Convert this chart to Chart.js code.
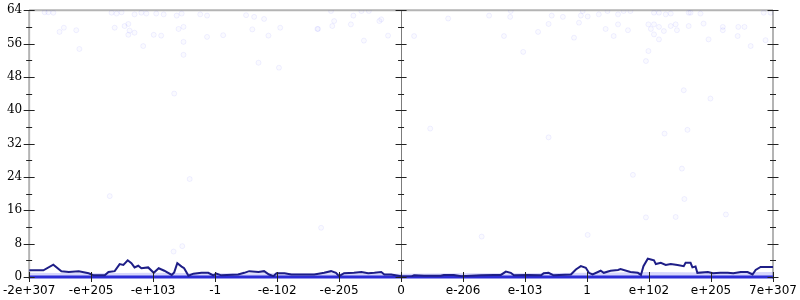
<!DOCTYPE html>
<html>
<head>
<meta charset="utf-8">
<script src="https://cdn.jsdelivr.net/npm/chart.js@4/dist/chart.umd.min.js"></script>
<style>
  html, body { margin: 0; padding: 0; background: #fff; }
</style>
</head>
<body>
<canvas id="myChart" width="800" height="300"></canvas>
<script>
// tick positions (one unit per labelled step) and their labels
const xTickPos = [-6, -5, -4, -3, -2, -1, 0, 1, 2, 3, 4, 5, 6];
const xTickLabels = ["-2e+307", "-e+205", "-e+103", "-1", "-e-102", "-e-205", "0",
  "e-206", "e-103", "1", "e+102", "e+205", "7e+307"];
const yTicks = [0, 8, 16, 24, 32, 40, 48, 56, 64];

// running curve (dark line)
const lineX = [-6, -5.77, -5.61, -5.48, -5.36, -5.2, -5.04, -4.96, -4.78, -4.72, -4.62, -4.54, -4.48, -4.41,
  -4.35, -4.3, -4.24, -4.19, -4.08, -3.99, -3.91, -3.82, -3.7, -3.66, -3.61, -3.54, -3.5, -3.43, -3.35,
  -3.22, -3.11, -3.03, -2.98, -2.9, -2.63, -2.53, -2.45, -2.3, -2.21, -2.13, -2.06, -2.01, -1.88, -1.77,
  -1.4, -1.24, -1.13, -1.05, -1.0, -0.92, -0.76, -0.64, -0.53, -0.43, -0.32, -0.27, -0.16, 0, 0.16,
  0.21, 0.37, 0.64, 0.69, 0.85, 0.97, 1.29, 1.5, 1.61, 1.69, 1.77, 1.82, 2.05, 2.26, 2.3, 2.38, 2.46,
  2.74, 2.82, 2.9, 2.98, 3.03, 3.09, 3.22, 3.27, 3.38, 3.5, 3.54, 3.7, 3.82, 3.87, 3.91, 3.98, 4.03,
  4.08, 4.11, 4.19, 4.27, 4.35, 4.46, 4.56, 4.59, 4.67, 4.7, 4.75, 4.78, 4.95, 5.03, 5.15, 5.27, 5.36,
  5.48, 5.59, 5.67, 5.72, 5.8, 6];
const lineY = [1.6, 1.6, 2.95, 1.4, 1.2, 1.35, 0.9, 0.4, 0.4, 1.2, 1.4, 3.1, 2.9, 4.0,
  3.3, 2.3, 2.7, 2.1, 2.3, 1.0, 2.1, 1.5, 0.5, 1.1, 3.3, 2.5, 2.1, 0.3, 0.8,
  1.0, 1.0, 0.4, 0.8, 0.4, 0.6, 1.0, 1.4, 1.2, 1.4, 0.6, 0.2, 0.9, 0.9, 0.6,
  0.6, 1.0, 1.4, 1.0, 0.2, 0.9, 1.0, 1.2, 0.9, 1.0, 1.2, 0.6, 0.6, 0.2, 0.1,
  0.4, 0.3, 0.3, 0.5, 0.5, 0.2, 0.4, 0.5, 0.5, 1.3, 1.0, 0.4, 0.5, 0.4, 0.9, 1.0, 0.4,
  0.6, 1.8, 2.6, 2.2, 1.0, 0.6, 1.5, 1.0, 1.5, 1.7, 1.9, 1.2, 1.0, 0.5, 2.6, 4.4, 4.2,
  4.0, 3.1, 3.4, 2.9, 3.1, 2.9, 2.6, 3.4, 3.4, 2.3, 2.5, 1.0, 1.2, 0.9, 1.0, 1.0, 0.9,
  1.2, 1.2, 0.6, 1.7, 2.4, 2.4];

// light band of dense samples near zero
const bandX = [-6, -5, -4, -3, -2, -1, 0, 1, 2, 3, 3.5, 4, 5, 6];
const bandY = [1.0, 0.9, 1.0, 0.9, 0.9, 0.9, 0.8, 0.9, 0.9, 1.0, 1.1, 1.2, 1.1, 1.2];

// faint scattered samples
const dotX = [-5.75, -5.69, -5.61, -5.44, -5.51, -5.24, -5.19, -4.67, -4.59, -4.51, -4.62, -4.46, -4.4,
  -4.38, -4.4, -4.3, -4.19, -4.11, -4.3, -3.95, -3.83, -3.99, -3.87, -4.16, -3.62, -3.54, -3.59, -3.51,
  -3.51, -3.51, -3.66, -3.24, -3.13, -2.5, -2.37, -2.21, -3.13, -2.87, -2.4, -2.14, -1.95, -1.35, -2.3,
  -1.97, -1.13, -1.08, -0.77, -0.81, -1.11, -1.34, -0.64, -0.52, -0.35, -0.32, -0.21, 0.21, -0.6, 0.76,
  1.42, 1.76, 1.77, 2.43, 2.61, 2.93, 2.9, 3.01, 3.19, 2.38, 2.87, 1.66, 2.21, 2.79, 1.97, 3.33, 3.5,
  3.59, 3.7, 4.08, 4.16, 4.27, 4.35, 4.64, 4.67, 4.83, 3.3, 3.5, 3.66, 3.43, 3.99, 4.03, 4.08, 4.16,
  4.08, 4.24, 4.35, 4.43, 4.45, 4.64, 4.88, 5.19, 5.19, 5.44, 5.54, 5.43, 5.88, 5.64, 4.96, 4.16, 3.99,
  3.95, 4.56, 4.99, 5.85, 5.96, -3.41, -4.7, -1.29, -3.53, -3.67, 0.47, 2.38, 4.25, 4.62, 4.53, 3.74,
  4.57, 3.95, 4.43, 5.24, 1.3, 3.01];
const dotY = [63.5, 63.5, 63.4, 59.8, 58.8, 59.2, 54.7, 63.4, 63.2, 63.5, 59.8, 60.2, 60.7,
  59.1, 58.1, 58.6, 63.4, 63.2, 63.0, 63.2, 63.0, 58.1, 57.9, 55.4, 62.7, 63.2, 59.5, 60.0,
  56.4, 53.3, 44.0, 63.0, 62.7, 62.8, 62.4, 61.9, 57.6, 58.0, 59.4, 57.9, 59.8, 59.5, 51.4,
  50.2, 63.8, 61.4, 62.7, 60.6, 60.2, 59.5, 63.8, 63.8, 61.4, 61.8, 57.9, 57.8, 56.7, 62.0,
  62.7, 62.4, 63.8, 62.7, 62.4, 63.8, 62.7, 62.5, 63.0, 60.7, 61.0, 57.8, 58.8, 57.4, 54.0, 63.8, 63.0,
  63.8, 63.8, 63.4, 63.4, 63.0, 63.2, 63.4, 63.4, 63.2, 59.5, 60.6, 59.2, 57.8, 60.6, 59.5, 60.6, 60.0,
  58.2, 59.0, 60.2, 60.6, 59.2, 60.2, 60.8, 60.0, 59.2, 60.0, 60.0, 57.8, 56.8, 55.4, 57.0, 57.0, 54.2,
  51.8, 44.8, 42.8, 63.4, 63.4, 23.5, 19.4, 11.8, 7.4, 6.1, 35.6, 33.5, 34.4, 35.3, 26.0, 24.5,
  18.7, 14.3, 14.4, 15.0, 9.7, 10.1];

function toPoints(xs, ys) {
  return xs.map((x, i) => ({ x: x, y: ys[i] }));
}

// gray frame and the three vertical axes
const frame = {
  id: "frame",
  beforeDatasetsDraw(chart) {
    const { ctx, chartArea: a, scales } = chart;
    const mid = Math.round(scales.x.getPixelForValue(0)) + 0.5;
    ctx.save();
    ctx.strokeStyle = "#b4b4b4";
    ctx.lineWidth = 2;
    ctx.beginPath();
    ctx.moveTo(a.left, a.top);
    ctx.lineTo(a.right, a.top);
    ctx.moveTo(a.left, a.top);
    ctx.lineTo(a.left, a.bottom + 2);
    ctx.moveTo(a.right, a.top);
    ctx.lineTo(a.right, a.bottom + 2);
    ctx.stroke();
    ctx.strokeStyle = "#7c7c7c";
    ctx.lineWidth = 1;
    ctx.beginPath();
    ctx.moveTo(mid, a.top);
    ctx.lineTo(mid, a.bottom);
    ctx.stroke();
    ctx.restore();
  },
  afterDatasetsDraw(chart) {
    const { ctx, chartArea: a, scales } = chart;
    const xs = [a.left, scales.x.getPixelForValue(0), a.right];
    ctx.save();
    ctx.strokeStyle = "#222";
    ctx.lineWidth = 1;
    ctx.beginPath();
    for (const px of xs) {
      for (let v = 0; v <= 64; v += 4) {
        const py = Math.round(scales.y.getPixelForValue(v)) + 0.5;
        const len = v % 8 === 0 ? 5.5 : 3;
        ctx.moveTo(px - len, py);
        ctx.lineTo(px + len, py);
      }
    }
    for (const t of xTickPos) {
      const px = Math.round(scales.x.getPixelForValue(t)) + 0.5;
      ctx.moveTo(px, a.bottom - 5);
      ctx.lineTo(px, a.bottom + 5);
    }
    ctx.stroke();
    ctx.restore();
  }
};

const config = {
  type: "scatter",
  data: {
    datasets: [
      {
        label: "samples",
        data: toPoints(dotX, dotY),
        pointRadius: 2.5,
        pointBackgroundColor: "rgba(60,60,255,0.025)",
        pointBorderColor: "rgba(60,60,255,0.07)",
        pointBorderWidth: 1,
        order: 4
      },
      {
        label: "band",
        type: "line",
        data: toPoints(bandX, bandY),
        borderWidth: 0,
        pointRadius: 0,
        fill: "origin",
        backgroundColor: "rgba(90,90,245,0.25)",
        order: 3
      },
      {
        label: "zero",
        type: "line",
        data: toPoints([-6, 6], [0, 0]),
        borderColor: "rgb(45,45,215)",
        borderWidth: 3,
        pointRadius: 0,
        clip: false,
        order: 2
      },
      {
        label: "curve",
        type: "line",
        data: toPoints(lineX, lineY),
        borderColor: "rgb(30,30,135)",
        borderWidth: 2,
        pointRadius: 0,
        tension: 0,
        fill: false,
        order: 1
      }
    ]
  },
  options: {
    responsive: false,
    animation: false,
    layout: { padding: { top: 8, right: 27, left: 0, bottom: 0 } },
    plugins: { legend: { display: false }, tooltip: { enabled: false } },
    scales: {
      x: {
        type: "linear",
        min: -6,
        max: 6,
        grid: { display: false, drawTicks: true, tickLength: 4 },
        border: { display: false },
        afterBuildTicks: (scale) => { scale.ticks = xTickPos.map((v) => ({ value: v })); },
        afterFit: (scale) => { scale.height = 23; },
        ticks: {
          autoSkip: false,
          maxRotation: 0,
          padding: 3,
          color: "#000",
          font: { family: "DejaVu Sans", size: 12 },
          callback: (v) => xTickLabels[xTickPos.indexOf(v)]
        }
      },
      y: {
        min: 0,
        max: 64,
        grid: { display: false, drawTicks: true, tickLength: 4 },
        border: { display: false },
        afterBuildTicks: (scale) => { scale.ticks = yTicks.map((v) => ({ value: v })); },
        afterFit: (scale) => { scale.width = 28; },
        ticks: {
          padding: 3,
          color: "#000",
          font: { family: "DejaVu Serif", size: 12 }
        }
      }
    }
  },
  plugins: [frame]
};

new Chart(document.getElementById("myChart"), config);
</script>
</body>
</html>
